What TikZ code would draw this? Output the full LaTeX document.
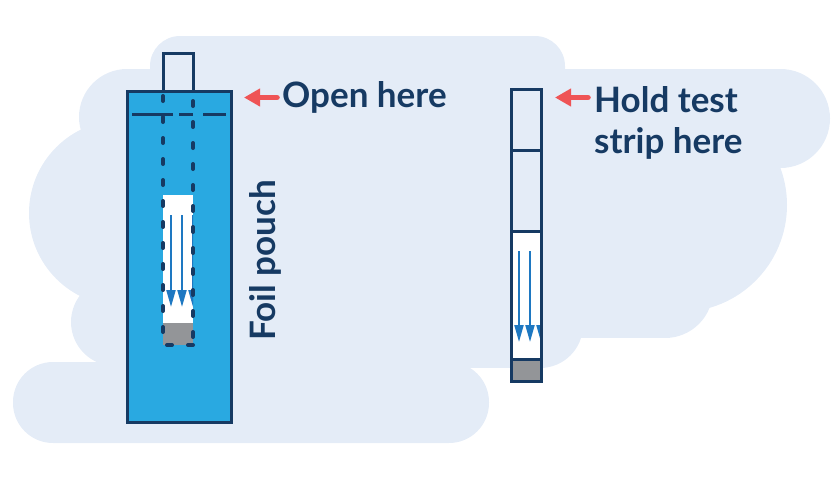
\documentclass[tikz,border=0pt]{standalone}
\usepackage{fontspec}
\setmainfont{Lato}
\usetikzlibrary{arrows.meta}
\definecolor{cloudc}{HTML}{E4ECF7}
\definecolor{pouchc}{HTML}{29A9E1}
\definecolor{navy}{HTML}{163A63}
\definecolor{flowc}{HTML}{1E78C2}
\definecolor{padc}{HTML}{939598}
\definecolor{redc}{HTML}{EF5456}
\tikzset{
  cloudfill/.style={fill=cloudc},
  outline/.style={draw=navy, line width=3pt},
  dotline/.style={draw=navy, line width=4pt, line cap=round, dash pattern=on 5pt off 16pt},
  flow/.style={draw=flowc, line width=2pt, -{Triangle[length=17pt,width=9pt]}},
  pointer/.style={draw=redc, line width=5.5pt, line cap=round, -{Triangle[length=16pt,width=17pt]}},
  txt/.style={text=navy, inner sep=0pt, font=\fontsize{35}{41}\selectfont\bfseries}
}
\begin{document}
\begin{tikzpicture}[x=1pt,y=-1pt]
\useasboundingbox (0,0) rectangle (840,480);
% cloud background
\fill[cloudfill, rounded corners=30pt] (150,36) rectangle (565,150);
\fill[cloudfill, rounded corners=49.5pt] (540,69) rectangle (830,168);
\fill[cloudfill] (680,205) circle[radius=107pt];
\fill[cloudfill] (540,69) rectangle (665,338);
\fill[cloudfill] (665,290) circle[radius=48pt];
\fill[cloudfill] (540,325) circle[radius=43pt];
\fill[cloudfill] (127,69) rectangle (545,368);
\fill[cloudfill] (127,117) circle[radius=48pt];
\fill[cloudfill] (122,213) circle[radius=93pt];
\fill[cloudfill] (115,322) circle[radius=44pt];
\fill[cloudfill, rounded corners=40pt] (13,362) rectangle (489,443);

% foil pouch
\draw[outline] (163,53) rectangle (193,91);
\draw[outline, fill=pouchc] (127,91) rectangle (231,422);
\draw[navy, line width=3pt] (132,114.5) -- (173,114.5);
\draw[navy, line width=3pt] (179,114.5) -- (193,114.5);
\draw[navy, line width=3pt] (203,114.5) -- (226,114.5);
% strip inside pouch
\fill[white] (163,195) rectangle (193,323);
\fill[padc] (163,323) rectangle (193,345);
\begin{scope}
  \clip (163,195) rectangle (193,323);
  \coordinate (pa1) at (171,215); \coordinate (pb1) at (171,307);
  \coordinate (pa2) at (182,215); \coordinate (pb2) at (182,307);
  \coordinate (pa3) at (193,215); \coordinate (pb3) at (193,307);
  \draw[flow] (pa1) -- (pb1);
  \draw[flow] (pa2) -- (pb2);
  \draw[flow] (pa3) -- (pb3);
\end{scope}
\draw[dotline] (163,96) -- (163,345);
\draw[dotline] (193,101) -- (193,345);
\draw[dotline] (167,345) -- (193,345);

% test strip
\fill[white] (511,231) rectangle (541,359);
\fill[padc] (511,359) rectangle (541,381);
\begin{scope}
  \clip (511,231) rectangle (541,359);
  \coordinate (sa1) at (519,251); \coordinate (sb1) at (519,342);
  \coordinate (sa2) at (530,251); \coordinate (sb2) at (530,342);
  \coordinate (sa3) at (541,251); \coordinate (sb3) at (541,342);
  \draw[flow] (sa1) -- (sb1);
  \draw[flow] (sa2) -- (sb2);
  \draw[flow] (sa3) -- (sb3);
\end{scope}
\draw[outline] (511,89.5) rectangle (541,381);
\draw[navy, line width=3pt] (511,150) -- (541,150);
\draw[navy, line width=3pt] (511,231) -- (541,231);
\draw[navy, line width=3pt] (511,359) -- (541,359);

% labels
\node[txt, anchor=base west] (open) at (282,107) {Open here};
\node[txt, anchor=base west] (hold1) at (594,112) {Hold test};
\node[txt, anchor=base west] (hold2) at (594,153) {strip here};
\node[txt, rotate=90, anchor=base west] (foil) at (275,341) {Foil pouch};

% pointers
\coordinate (openTail) at (277,97.5);
\coordinate (openTip) at (244,97.5);
\coordinate (holdTail) at (588,97.5);
\coordinate (holdTip) at (555,97.5);
\draw[pointer] (openTail) -- (openTip);
\draw[pointer] (holdTail) -- (holdTip);
\end{tikzpicture}
\end{document}
